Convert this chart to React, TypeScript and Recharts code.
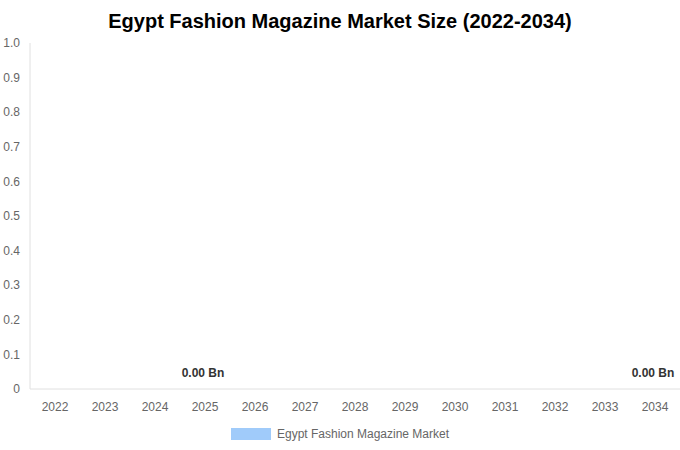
import { ComposedChart, Bar, Line, XAxis, YAxis, Legend, LabelList } from 'recharts';

const years = ['2022', '2023', '2024', '2025', '2026', '2027', '2028', '2029', '2030', '2031', '2032', '2033', '2034'];
const marketSize = [0, 0, 0, 0, 0, 0, 0, 0, 0, 0, 0, 0, 0];
const valueLabels = ['', '', '', '0.00 Bn', '', '', '', '', '', '', '', '', '0.00 Bn'];
const yTicks = [0, 0.1, 0.2, 0.3, 0.4, 0.5, 0.6, 0.7, 0.8, 0.9, 1.0];

const seriesName = 'Egypt Fashion Magazine Market';
const barColor = '#a0cbfa';

const data = years.map((year, i) => ({ year, value: marketSize[i], label: valueLabels[i] }));

// zero-height bars get no labels, so the labels ride on an invisible line at the bar tops
const renderLabel = (props: any) => {
  const { x, y, value } = props;
  if (!value) return null;
  return (
    <text
      x={Number(x) - 2}
      y={Number(y) - 12}
      textAnchor="middle"
      fontSize={12}
      fontWeight={700}
      fill="#333333"
    >
      {value}
    </text>
  );
};

const renderLegend = () => (
  <div style={{ display: 'flex', justifyContent: 'center', alignItems: 'center', height: 26, paddingTop: 4, boxSizing: 'border-box' }}>
    <span style={{ width: 40, height: 12, background: barColor, display: 'inline-block', marginRight: 6 }} />
    <span style={{ fontSize: 12, color: '#666666' }}>{seriesName}</span>
  </div>
);

export default function App() {
  return (
    <div
      style={{
        position: 'absolute',
        top: 0,
        left: 0,
        width: 680,
        height: 450,
        background: '#ffffff',
        fontFamily: '"Liberation Sans", Arial, sans-serif',
      }}
    >
      <div
        style={{
          position: 'absolute',
          top: 8,
          left: 0,
          width: 680,
          textAlign: 'center',
          fontSize: 20,
          fontWeight: 700,
          color: '#000000',
          lineHeight: '26px',
        }}
      >
        Egypt Fashion Magazine Market Size (2022-2034)
      </div>
      <ComposedChart width={680} height={450} data={data} margin={{ top: 43, right: 0, left: 0, bottom: 5 }}>
        <XAxis
          dataKey="year"
          axisLine={{ stroke: '#e0e0e0' }}
          tickLine={false}
          tick={{ fontSize: 12, fill: '#666666' }}
          tickMargin={7}
          height={30}
        />
        <YAxis
          domain={[0, 1]}
          ticks={yTicks}
          width={30}
          axisLine={{ stroke: '#e0e0e0' }}
          tickLine={false}
          tick={{ fontSize: 12, fill: '#666666' }}
          tickMargin={4}
          tickFormatter={(v: number) => (v === 0 ? '0' : v.toFixed(1))}
          interval={0}
        />
        <Legend verticalAlign="bottom" height={26} content={renderLegend} />
        <Bar dataKey="value" name={seriesName} fill={barColor} isAnimationActive={false} />
        <Line
          dataKey="value"
          stroke="none"
          dot={false}
          activeDot={false}
          legendType="none"
          isAnimationActive={false}
        >
          <LabelList dataKey="label" content={renderLabel} />
        </Line>
      </ComposedChart>
    </div>
  );
}
